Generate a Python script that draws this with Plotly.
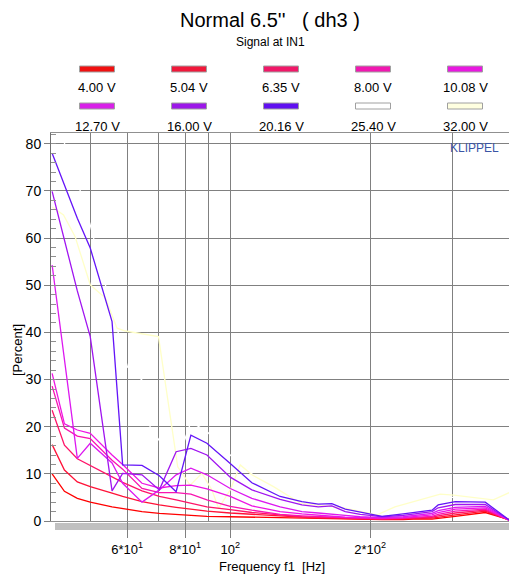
import plotly.graph_objects as go
import math

# ---------------- data ----------------
freq = [41.4, 44.0, 46.9, 50.0, 55.7, 58.7, 64.6, 70.4, 76.5, 82.3, 89.1, 100, 111.3, 128,
        142.6, 154.6, 165.4, 176.7, 190.4, 200, 212, 235.5, 247.5, 271.6, 280, 304.7, 353.5, 398]

v_4_00 = [10.0, 6.3, 4.8, 4.0, 3.0, 2.6, 2.0, 1.6, 1.4, 1.2, 1.0, 0.9, 0.8, 0.7,
          0.6, 0.5, 0.5, 0.4, 0.4, 0.3, 0.3, 0.3, 0.4, 0.4, 0.6, 1.0, 1.8, 0.3]
v_5_04 = [16.2, 10.8, 8.3, 7.3, 5.9, 5.2, 4.1, 3.4, 2.9, 2.5, 2.1, 1.7, 1.4, 1.1,
          0.7, 0.6, 0.6, 0.5, 0.4, 0.4, 0.4, 0.4, 0.5, 0.6, 0.8, 1.3, 2.1, 0.2]
v_6_35 = [23.5, 16.1, 13.2, 11.8, 9.4, 8.2, 6.4, 5.2, 4.5, 3.8, 3.0, 2.4, 1.8, 1.3,
          0.9, 0.8, 0.7, 0.6, 0.5, 0.5, 0.4, 0.5, 0.6, 0.8, 1.1, 1.7, 2.3, 0.2]
v_8_00 = [28.6, 19.7, 18.0, 17.5, 12.9, 11.0, 6.9, 6.0, 6.0, 5.7, 4.5, 3.1, 2.3, 1.4,
          1.1, 0.9, 0.8, 0.7, 0.6, 0.5, 0.5, 0.6, 0.7, 1.0, 1.4, 2.1, 2.5, 0.2]
v_10_08 = [31.3, 20.6, 19.3, 18.6, 14.0, 12.0, 8.0, 7.0, 7.5, 7.6, 6.8, 5.2, 3.2, 2.0,
           1.5, 1.2, 1.0, 0.8, 0.7, 0.6, 0.6, 0.7, 0.9, 1.3, 1.8, 2.5, 2.8, 0.2]
v_12_70 = [54.3, 34.5, 13.3, 16.5, 12.3, 8.0, 4.0, 6.6, 9.8, 11.2, 9.8, 6.9, 4.8, 3.0,
           2.0, 1.7, 1.5, 1.2, 0.9, 0.8, 0.7, 0.9, 1.1, 1.6, 2.2, 2.9, 3.1, 0.2]
v_16_00 = [69.9, 59.6, 48.8, 39.1, 6.4, 10.1, 9.8, 6.6, 14.7, 15.4, 14.0, 9.3, 6.6, 4.6,
           3.4, 3.0, 3.2, 2.0, 1.4, 1.2, 0.9, 1.2, 1.5, 2.0, 2.8, 3.5, 3.5, 0.2]
v_20_16 = [78.0, 71.3, 64.2, 57.9, 42.3, 11.9, 11.8, 9.6, 6.2, 18.2, 16.5, 12.2, 8.1, 5.2,
           4.1, 3.6, 3.7, 2.5, 1.9, 1.5, 1.0, 1.5, 1.8, 2.3, 3.4, 4.1, 4.0, 0.2]

freq_25_40 = [41.4, 47.6, 50.0, 53.9, 60.1, 64.6, 67.3, 76.5, 82.3, 89.1, 100, 111.3, 128,
              165, 200, 235, 280, 330, 398]
v_25_40 = [88.0, 70.0, 62.8, 50.1, 32.7, 29.9, 19.8, 12.0, 21.0, 19.0, 14.0, 10.0, 6.0,
           3.5, 1.5, 2.5, 5.0, 5.0, 1.0]

freq_32_00 = [41.4, 43.8, 46.4, 50.0, 53.9, 57.1, 59.5, 70.1, 77.1, 82.0, 86.9, 91.3, 94.4,
              100, 105.1, 111.3, 123.9, 141.4, 175, 200, 207, 226, 247.8, 283, 302.3, 367.8, 398]
v_32_00 = [66.6, 64.9, 60.3, 50.1, 47.3, 40.9, 40.3, 39.1, 11.5, 7.6, 10.1, 6.6, 2.7,
           6.6, 11.9, 9.8, 7.3, 3.8, 2.8, 1.6, 1.3, 3.0, 4.1, 5.7, 5.5, 4.5, 6.0]

names = ["4.00 V", "5.04 V", "6.35 V", "8.00 V", "10.08 V",
         "12.70 V", "16.00 V", "20.16 V", "25.40 V", "32.00 V"]
colors = ["#FF0000", "#FF1238", "#FF1468", "#F814B0", "#EE14E4",
          "#DC18F0", "#A014F0", "#6414F8", "#FFFFFF", "#FFFFC8"]
legend_fill = ["#F01010", "#F0183A", "#F01868", "#F018B0", "#E818E0",
               "#D820E8", "#9C18E8", "#6010F0", "#FFFFFF", "#FFFFE0"]

series_x = [freq] * 8 + [freq_25_40, freq_32_00]
series_y = [v_4_00, v_5_04, v_6_35, v_8_00, v_10_08, v_12_70, v_16_00, v_20_16, v_25_40, v_32_00]

x_tickvals = [60, 80, 100, 200]
x_ticktext = ["6*10<sup>1</sup>", "8*10<sup>1</sup>", "10<sup>2</sup>", "2*10<sup>2</sup>"]
x_minorvals = [50, 70, 90, 300]
y_tickvals = [0, 10, 20, 30, 40, 50, 60, 70, 80]

# ---------------- layout helpers ----------------
W, H = 509, 578
L, R, T, B = 51, 509, 133, 521

def px(x):
    return (x - L) / (R - L)

def py(y):
    return (B - y) / (B - T)

FONT = "Liberation Sans Narrow, Arial Narrow, Liberation Sans, Arial, sans-serif"

fig = go.Figure()

order = [8, 9, 0, 1, 2, 3, 4, 5, 6, 7]
for i in order:
    fig.add_trace(go.Scatter(
        x=series_x[i], y=series_y[i], mode="lines", name=names[i],
        line=dict(color=colors[i], width=1.3),
        showlegend=False, hoverinfo="skip"))

shapes = []
annotations = []

# gray strip under x axis
shapes.append(dict(type="rect", xref="paper", yref="paper",
                   x0=px(55), x1=px(509), y0=py(523), y1=py(530),
                   fillcolor="#C0C0C0", line=dict(width=0), layer="below"))

# legend
col_x = [97, 189, 281, 373, 465]
row_sw = [69, 106]
row_lab = [88, 126]
for k, nm in enumerate(names):
    r, c = divmod(k, 5)
    cx = col_x[c]
    shapes.append(dict(type="rect", xref="paper", yref="paper",
                       x0=px(cx - 17.5), x1=px(cx + 17.5),
                       y0=py(row_sw[r] + 3), y1=py(row_sw[r] - 3),
                       fillcolor=legend_fill[k], line=dict(color="#A0A0A0", width=1)))
    annotations.append(dict(text=nm, xref="paper", yref="paper",
                            x=px(cx), y=py(row_lab[r]), showarrow=False,
                            xanchor="center", yanchor="middle",
                            font=dict(family=FONT, size=13, color="#000000")))

# titles
annotations.append(dict(text="Normal 6.5''   ( dh3 )", xref="paper", yref="paper",
                        x=px(270), y=py(20), showarrow=False, xanchor="center", yanchor="middle",
                        font=dict(family=FONT, size=20, color="#000000")))
annotations.append(dict(text="Signal at IN1", xref="paper", yref="paper",
                        x=px(270), y=py(42), showarrow=False, xanchor="center", yanchor="middle",
                        font=dict(family=FONT, size=12, color="#000000")))
annotations.append(dict(text="KLIPPEL", xref="paper", yref="paper",
                        x=px(501), y=py(148), showarrow=False, xanchor="right", yanchor="middle",
                        font=dict(family=FONT, size=12, color="#3A55A5")))
annotations.append(dict(text="Frequency f1  [Hz]", xref="paper", yref="paper",
                        x=px(272), y=py(566), showarrow=False, xanchor="center", yanchor="middle",
                        font=dict(family=FONT, size=13, color="#000000")))
annotations.append(dict(text="[Percent]", xref="paper", yref="paper",
                        x=px(17), y=py(350), showarrow=False, xanchor="center", yanchor="middle",
                        textangle=-90,
                        font=dict(family=FONT, size=13, color="#000000")))

fig.update_layout(
    width=W, height=H,
    margin=dict(l=L, r=W - R, t=T, b=H - B, pad=0),
    paper_bgcolor="#FFFFFF", plot_bgcolor="#FFFFFF",
    showlegend=False,
    shapes=shapes, annotations=annotations,
    font=dict(family=FONT, size=14, color="#000000"),
    xaxis=dict(
        type="log", range=[math.log10(41.17), math.log10(397.6)],
        tickmode="array", tickvals=x_tickvals, ticktext=x_ticktext,
        ticks="outside", ticklen=16, tickcolor="#808080", tickwidth=1,
        showgrid=True, gridcolor="#808080", gridwidth=1,
        minor=dict(tickmode="array", tickvals=x_minorvals, showgrid=True,
                   gridcolor="#808080", gridwidth=1, ticks=""),
        showline=True, linecolor="#909090", linewidth=1, mirror=True,
        zeroline=False, tickfont=dict(family=FONT, size=13),
    ),
    yaxis=dict(
        range=[0, 82.3], tickmode="array", tickvals=y_tickvals,
        ticks="outside", ticklen=6, tickcolor="#808080",
        showgrid=True, gridcolor="#808080", gridwidth=1,
        minor=dict(dtick=2, ticks="inside", ticklen=5, tickcolor="#909090", showgrid=False),
        showline=True, linecolor="#707070", linewidth=1,
        zeroline=False, tickfont=dict(family=FONT, size=14),
    ),
)

fig.write_html("out.html",
               config={"displayModeBar": False, "staticPlot": True},
               post_script="document.body.style.margin='0';document.body.style.padding='0';")
